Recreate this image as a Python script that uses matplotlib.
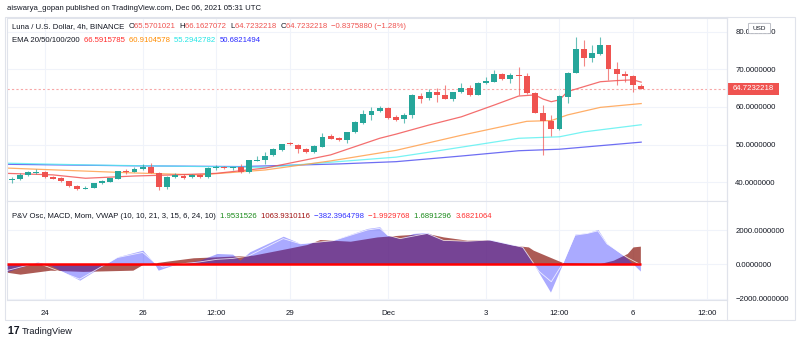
import matplotlib
matplotlib.use('Agg')
import matplotlib.pyplot as plt
from matplotlib.patches import Rectangle, FancyBboxPatch
from matplotlib.lines import Line2D
import matplotlib.transforms as mtransforms
import numpy as np

plt.rcParams['font.family'] = ['Liberation Sans', 'DejaVu Sans']

# ---- data: LUNA/USD 4h candles, first bar Nov 23 08:00 UTC ----
opens = [40.6, 40.9, 42.0, 42.5, 42.8, 41.4, 41.2, 40.3, 39.1, 38.3,
         38.6, 39.8, 40.1, 41.0, 42.9, 42.8, 43.5, 44.1, 42.6, 38.7,
         41.4, 41.8, 41.4, 42.0, 41.4, 43.7, 44.0, 43.7, 44.0, 42.8,
         45.8, 45.9, 47.2, 48.6, 50.4, 49.9, 48.9, 48.0, 49.5, 52.3,
         51.8, 51.2, 53.4, 55.8, 58.0, 58.9, 59.7, 57.3, 56.7, 57.9,
         63.0, 62.5, 64.0, 63.3, 62.1, 63.9, 65.1, 63.3, 66.4, 66.7,
         68.8, 67.3, 68.5, 68.3, 63.6, 58.3, 56.4, 54.2, 62.7, 69.1,
         75.3, 72.9, 74.1, 76.4, 70.1, 68.8, 68.3, 65.5701021]
highs = [41.5, 42.4, 42.9, 43.5, 43.0, 41.6, 41.4, 40.5, 39.3, 39.0,
         39.9, 40.6, 41.3, 43.1, 43.5, 44.2, 44.8, 45.1, 42.7, 41.6,
         42.4, 42.2, 42.2, 42.2, 44.0, 44.5, 44.3, 44.2, 45.0, 46.0,
         46.9, 48.1, 49.2, 50.3, 50.6, 50.1, 49.2, 49.8, 53.0, 52.9,
         52.0, 53.4, 56.3, 59.1, 59.9, 60.3, 60.1, 57.9, 58.3, 63.5,
         63.8, 64.9, 65.0, 65.8, 63.9, 66.4, 65.8, 66.6, 68.0, 69.8,
         69.0, 68.9, 70.7, 68.9, 64.1, 60.5, 57.9, 63.2, 69.4, 78.6,
         77.8, 76.4, 78.6, 76.5, 72.0, 69.6, 68.6, 66.1627072]
lows = [39.9, 40.7, 41.8, 42.3, 41.2, 40.8, 40.1, 38.7, 38.0, 38.2,
        38.5, 39.6, 40.0, 40.9, 42.3, 42.7, 43.3, 42.5, 38.0, 38.2,
        41.2, 40.9, 41.2, 41.2, 41.3, 43.3, 43.5, 43.4, 42.6, 42.6,
        45.6, 44.8, 46.9, 48.4, 49.9, 47.9, 47.8, 47.8, 49.3, 51.4,
        50.9, 50.5, 53.2, 55.6, 56.6, 58.7, 56.9, 56.3, 55.8, 57.2,
        61.1, 61.8, 61.4, 62.0, 61.6, 63.7, 62.8, 63.2, 66.2, 66.5,
        67.1, 66.4, 63.2, 63.5, 58.3, 47.3, 52.3, 54.0, 61.1, 68.9,
        71.0, 71.8, 73.8, 67.2, 65.8, 66.7, 64.0, 64.7232218]
closes = [41.0, 42.0, 42.7, 42.8, 41.4, 41.0, 40.3, 39.1, 38.3, 38.5,
          39.8, 40.4, 41.1, 43.0, 42.8, 43.5, 44.2, 42.6, 38.7, 41.5,
          41.9, 41.3, 42.0, 41.4, 43.9, 44.0, 43.7, 44.0, 42.8, 45.9,
          46.0, 47.1, 48.8, 50.1, 50.1, 48.8, 48.0, 49.6, 52.1, 51.6,
          51.2, 53.4, 55.9, 58.2, 59.0, 59.7, 57.2, 56.6, 57.8, 63.2,
          62.2, 64.0, 63.2, 62.1, 63.9, 65.0, 63.3, 66.4, 66.8, 68.8,
          67.3, 68.5, 68.2, 63.6, 58.5, 56.4, 54.2, 62.9, 69.1, 75.4,
          72.9, 74.2, 76.4, 70.0, 68.8, 68.3, 65.7, 64.7232218]

# EMA readings (bar index, value)
ema20_x = [-0.6, 5, 9, 15, 20, 25, 31, 39, 45, 47, 51, 55, 59, 62, 64, 65, 66, 67, 68, 70, 72, 74, 76, 77]
ema20_y = [42.4, 42.0, 41.1, 41.7, 42.0, 42.4, 43.8, 47.3, 51.7, 52.8, 55.2, 57.4, 60.5, 62.9, 63.2, 62.1,
           61.4, 61.9, 64.1, 65.4, 66.7, 67.0, 67.2, 66.59]
ema50_x = [-0.6, 15, 23, 31, 39, 47, 55, 63, 66, 68, 72, 77]
ema50_y = [43.8, 42.5, 42.0, 43.3, 45.7, 48.5, 52.5, 56.2, 56.4, 57.9, 59.9, 60.91]
ema100_x = [-0.6, 10, 20, 31, 47, 51, 62, 67, 70, 77]
ema100_y = [45.1, 44.6, 44.3, 44.0, 46.7, 48.0, 51.7, 52.1, 53.4, 55.29]
ema200_x = [-0.6, 15, 28, 40, 47, 55, 62, 67, 77]
ema200_y = [44.8, 44.4, 44.2, 44.9, 45.5, 47.0, 48.4, 48.8, 50.68]

# oscillator pane readings
macd_x = [-0.6, 1.0, 4.7, 8.7, 14.8, 16.0, 19.0, 22.2, 25.1, 29.5, 33.7, 36.1, 37.7, 41.4, 44.7, 47.5,
          50.8, 52.8, 55.7, 58.1, 61.3, 63.2, 63.8, 66.7, 67.4, 72.0, 73.6, 75.3, 76.0, 76.9]
macd_y = [-450, -560, -330, -400, -330, 0, 195, 390, 445, 540, 930, 1160, 1450, 1350, 1600, 1700,
          1800, 1600, 1410, 1450, 1120, 1020, 830, 250, 115, 60, 250, 640, 1020, 1064]
mom_x = [-0.6, 3.1, 4.7, 8.3, 12.9, 16.0, 17.3, 17.9, 19.7, 23.0, 25.1, 27.0, 27.9, 29.1, 33.2, 35.3,
         39.3, 43.5, 45.0, 45.9, 47.5, 49.1, 50.8, 52.8, 55.7, 58.5, 62.5, 63.8, 65.9, 67.4, 68.9,
         70.4, 71.7, 72.8, 75.3, 76.9]
mom_y = [-420, 150, -40, -910, 445, 830, 150, -330, -40, 250, 640, 600, 250, 735, 1640, 1220,
         1410, 2090, 2190, 1700, 1520, 1800, 1860, 1410, 1370, 1450, 1020, 60, -1600, 60, 1760,
         1840, 2030, 1220, 350, -382]
sig_x = [-0.6, 3.1, 8.3, 12.9, 16.0, 17.5, 18.5, 20, 23, 25.1, 27, 29, 33.2, 35.3, 39.3, 43.5, 45,
         46, 47.5, 50.8, 52.8, 55.7, 58.5, 62.5, 64.5, 66.0, 67.4, 68.9, 70.4, 71.7, 72.8, 75.3, 76.9]
sig_y = [-350, 100, -850, 400, 700, 100, -150, 0, 150, 300, 350, 500, 1500, 1200, 1380, 2000, 2100,
         1700, 1500, 1800, 1400, 1350, 1420, 1000, -400, -1000, 60, 1700, 1800, 1950, 1200, 400, 0]

tick_pos = [4, 16, 25, 34, 46, 58, 67, 76, 85]
tick_lab = ['24', '26', '12:00', '29', 'Dec', '3', '12:00', '6', '12:00']
price_ticks = [40, 50, 60, 70, 80]
osc_ticks = [-2000, 0, 2000]

UP = '#26a69a'
DN = '#ef5350'
GRID = '#f0f3fa'
BORDER = '#e0e3eb'
TXT = '#131722'

W, H = 800, 343
fig = plt.figure(figsize=(8, 3.43), dpi=100)
fig.patch.set_facecolor('white')

def fx(px):
    return px / W

def fy(py):
    return 1 - py / H

L, R = 7, 727
ax = fig.add_axes([fx(L), fy(201), fx(R - L), fy(18) - fy(201)])
ax2 = fig.add_axes([fx(L), fy(300), fx(R - L), fy(201) - fy(300)], sharex=ax)

n = len(closes)
idx = np.arange(n)
o = np.array(opens); c = np.array(closes)
col = [UP if cc >= oo else DN for oo, cc in zip(o, c)]
ax.vlines(idx, lows, highs, colors=col, linewidth=0.8, alpha=0.7, zorder=3)
body_lo = np.minimum(o, c)
body_h = np.maximum(np.abs(c - o), 0.25)
ax.bar(idx, body_h, bottom=body_lo, width=0.72, color=col, linewidth=0, zorder=4)

ax.plot(ema200_x, ema200_y, color='#4a4af0', lw=0.9, alpha=0.8, zorder=2)
ax.plot(ema100_x, ema100_y, color='#55f0f0', lw=0.9, alpha=0.8, zorder=2)
ax.plot(ema50_x, ema50_y, color='#ffa04d', lw=0.9, alpha=0.85, zorder=2)
ax.plot(ema20_x, ema20_y, color='#f25555', lw=0.9, alpha=0.85, zorder=2)

last = closes[-1]
ax.axhline(last, color='#f7a8a8', lw=0.8, ls=(0, (2, 2)), zorder=1)

ax.set_xlim(-0.6, 87.5)
ax.set_ylim(35.07, 83.6)
ax.set_yticks(price_ticks)
ax.yaxis.tick_right()
ax.tick_params(axis='y', length=0, pad=6, labelsize=5.6, labelcolor=TXT)
ax.set_yticklabels(['%.7f' % v for v in price_ticks])
ax.tick_params(axis='x', length=0, labelbottom=False)
ax.set_xticks(tick_pos)
ax.grid(True, color=GRID, lw=0.8)

ax2.fill_between(macd_x, 0, macd_y, color='#8c1c14', alpha=0.72, lw=0, zorder=2)
ax2.fill_between(mom_x, 0, mom_y, color='#2020ff', alpha=0.38, lw=0, zorder=3)
ax2.plot(sig_x, sig_y, color='white', lw=0.6, alpha=0.8, zorder=4)
ax2.hlines(0, -0.6, 77, color='#ff0000', lw=1.8, zorder=5)
ax2.set_ylim(-2060, 3683)
ax2.set_yticks(osc_ticks)
ax2.yaxis.tick_right()
ax2.set_yticklabels(['\u22122000.0000000', '0.0000000', '2000.0000000'])
ax2.tick_params(axis='y', length=0, pad=6, labelsize=5.6, labelcolor=TXT)
ax2.set_xticks(tick_pos)
ax2.set_xticklabels(tick_lab)
ax2.tick_params(axis='x', length=0, pad=7, labelsize=5.6, labelcolor=TXT)
ax2.grid(True, color=GRID, lw=0.8)

for a in (ax, ax2):
    for s in a.spines.values():
        s.set_color(BORDER)
        s.set_linewidth(0.8)

# outer frame, price scale separator and time axis baseline
fig.add_artist(Rectangle((fx(5), fy(320)), fx(790), fy(17) - fy(320), transform=fig.transFigure,
                         fill=False, edgecolor=BORDER, lw=0.8))
fig.add_artist(Line2D([fx(R), fx(R)], [fy(320), fy(17)], color=BORDER, lw=0.8, transform=fig.transFigure))

# last price label
fig.add_artist(Rectangle((fx(727), fy(95)), fx(52), fy(83) - fy(95), transform=fig.transFigure,
                         color=DN, lw=0))
fig.text(fx(733), fy(89), '64.7232218', color='white', fontsize=5.6, va='center', ha='left')

# USD badge
fig.add_artist(FancyBboxPatch((fx(750), fy(33)), fx(19), fy(24) - fy(33), transform=fig.transFigure,
                              boxstyle='round,pad=0.002', facecolor='white', edgecolor='#b2b5be', lw=0.6))
fig.text(fx(759.5), fy(28.5), 'USD', color=TXT, fontsize=4.6, va='center', ha='center')

fig.text(fx(7), fy(9), 'aiswarya_gopan published on TradingView.com, Dec 06, 2021 05:31 UTC',
         color=TXT, fontsize=5.6, va='center', ha='left')

renderer = fig.canvas.get_renderer()
ident = mtransforms.IdentityTransform()


def run_text(x, y, parts, size=5.6):
    for s, cl in parts:
        t = fig.text(x, H - y, s, color=cl, fontsize=size, va='center', ha='left', transform=ident)
        x += t.get_window_extent(renderer).width


run_text(12, 27, [('Luna / U.S. Dollar, 4h, BINANCE  ', TXT),
                  ('O', TXT), ('65.5701021  ', DN), ('H', TXT), ('66.1627072  ', DN),
                  ('L', TXT), ('64.7232218  ', DN), ('C', TXT), ('64.7232218  ', DN),
                  ('\u22120.8375880 (\u22121.28%)', DN)])
run_text(12, 40, [('EMA 20/50/100/200  ', TXT), ('66.5915785  ', '#ff2b2b'),
                  ('60.9104578  ', '#ff8c00'), ('55.2942782  ', '#22e5e5'), ('50.6821494', '#2a2aff')])
run_text(12, 216, [('P&V Osc, MACD, Mom, VWAP (10, 10, 21, 3, 15, 6, 24, 10)  ', TXT),
                   ('1.9531526  ', '#1b8a1b'), ('1063.9310116  ', '#a01010'),
                   ('\u2212382.3964798  ', '#3030ff'), ('\u22121.9929768  ', '#ff3030'),
                   ('1.6891296  ', '#1b8a1b'), ('3.6821064', '#ff3030')])

# TradingView logo
run_text(8, 331, [('17 ', '#131722')], size=7.5)
fig.texts[-1].set_fontweight('bold')
fig.text(fx(22), fy(331), 'TradingView', color=TXT, fontsize=6.6, va='center', ha='left')

fig.savefig('out.png', dpi=100)
